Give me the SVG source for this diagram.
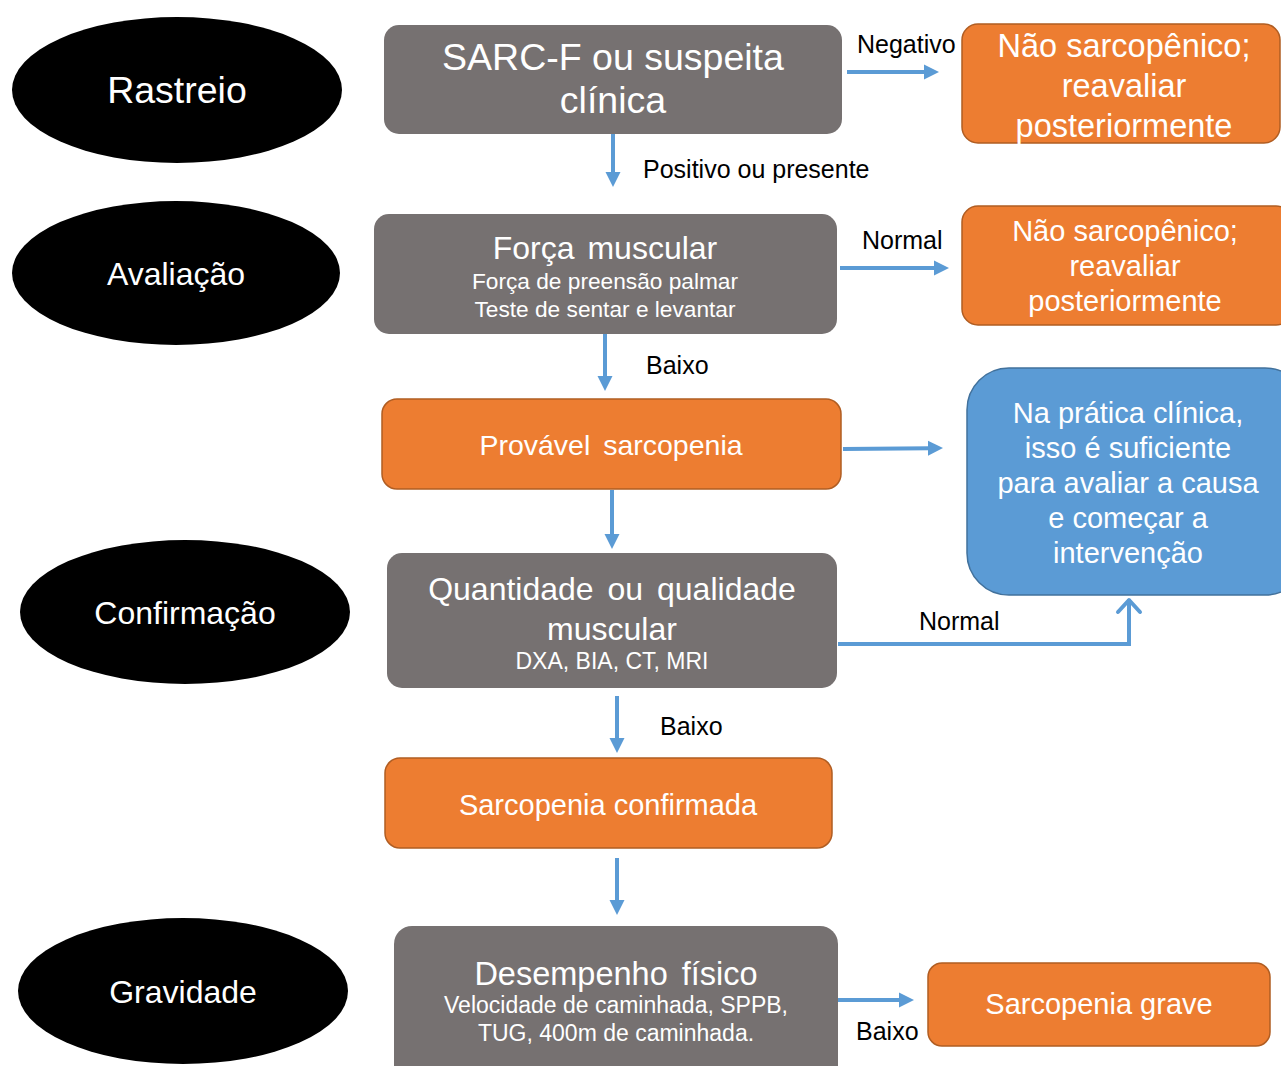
<svg xmlns="http://www.w3.org/2000/svg" width="1281" height="1066" viewBox="0 0 1281 1066">
  <defs>
    <style>
      text { font-family: "Liberation Sans", Arial, sans-serif; }
      .stage { fill: #000000; }
      .stage-t { fill: #ffffff; font-size: 32px; text-anchor: middle; }
      .gray { fill: #767171; }
      .orange { fill: #ED7D31; stroke: #B05D22; stroke-width: 1.5; }
      .blue { fill: #5B9BD5; stroke: #41719C; stroke-width: 1.5; }
      .w { fill: #ffffff; text-anchor: middle; }
      .lbl { fill: #000000; font-size: 25px; }
      .conn { fill: none; stroke: #5B9BD5; stroke-width: 4; }
      .tip { fill: #5B9BD5; }
    </style>
  </defs>

  <!-- Stage labels (left column) -->
  <g id="stage-rastreio">
    <ellipse class="stage" cx="177" cy="90" rx="165" ry="73"/>
    <text class="stage-t" x="177" y="103" style="font-size:37.5px">Rastreio</text>
  </g>
  <g id="stage-avaliacao">
    <ellipse class="stage" cx="176" cy="273" rx="164" ry="72"/>
    <text class="stage-t" x="176" y="285">Avaliação</text>
  </g>
  <g id="stage-confirmacao">
    <ellipse class="stage" cx="185" cy="612" rx="165" ry="72"/>
    <text class="stage-t" x="185" y="624">Confirmação</text>
  </g>
  <g id="stage-gravidade">
    <ellipse class="stage" cx="183" cy="991" rx="165" ry="73"/>
    <text class="stage-t" x="183" y="1003">Gravidade</text>
  </g>

  <!-- Connectors: shafts end at the base of their arrowheads -->
  <g id="connectors">
    <path class="conn" d="M847,72 H926"/>
    <path class="tip" d="M924,64.5 L939,72 L924,79.5 z"/>

    <path class="conn" d="M613,134 V174"/>
    <path class="tip" d="M605.5,172 L613,187 L620.5,172 z"/>

    <path class="conn" d="M840,268 H936"/>
    <path class="tip" d="M934,260.5 L949,268 L934,275.5 z"/>

    <path class="conn" d="M605,334 V378"/>
    <path class="tip" d="M597.5,376 L605,391 L612.5,376 z"/>

    <path class="conn" d="M843,449 L930,448.2"/>
    <path class="tip" d="M928,440.7 L943,448 L928,455.7 z"/>

    <path class="conn" d="M612,490 V536"/>
    <path class="tip" d="M604.5,534 L612,549 L619.5,534 z"/>

    <path class="conn" d="M838,644 H1129 V599"/>
    <path class="conn" d="M1118,612 L1129,600 L1140,612" stroke-linecap="round" stroke-linejoin="round"/>

    <path class="conn" d="M617,696 V740"/>
    <path class="tip" d="M609.5,738 L617,753 L624.5,738 z"/>

    <path class="conn" d="M617,858 V902"/>
    <path class="tip" d="M609.5,900 L617,915 L624.5,900 z"/>

    <path class="conn" d="M838,1000 H901"/>
    <path class="tip" d="M899,992.5 L914,1000 L899,1007.5 z"/>

    <text class="lbl" x="857" y="53">Negativo</text>
    <text class="lbl" x="643" y="178">Positivo ou presente</text>
    <text class="lbl" x="862" y="249">Normal</text>
    <text class="lbl" x="646" y="374">Baixo</text>
    <text class="lbl" x="919" y="630">Normal</text>
    <text class="lbl" x="660" y="735">Baixo</text>
    <text class="lbl" x="856" y="1040">Baixo</text>
  </g>

  <!-- Flow boxes -->
  <g id="sarc-f">
    <rect class="gray" x="384" y="25" width="458" height="109" rx="15"/>
    <text class="w" x="613" y="70" style="font-size:37.5px">SARC-F ou suspeita</text>
    <text class="w" x="613" y="113" style="font-size:37.5px">clínica</text>
  </g>

  <g id="nao-sarcopenico-1">
    <rect class="orange" x="962" y="24" width="318" height="119" rx="16"/>
    <text class="w" x="1124" y="57" style="font-size:32.5px">Não sarcopênico;</text>
    <text class="w" x="1124" y="97" style="font-size:32.5px">reavaliar</text>
    <text class="w" x="1124" y="137" style="font-size:32.5px">posteriormente</text>
  </g>

  <g id="forca-muscular">
    <rect class="gray" x="374" y="214" width="463" height="120" rx="15"/>
    <text class="w" x="605" y="259" style="font-size:32px;word-spacing:4px">Força muscular</text>
    <text class="w" x="605" y="289" style="font-size:22.7px">Força de preensão palmar</text>
    <text class="w" x="605" y="317" style="font-size:22.7px">Teste de sentar e levantar</text>
  </g>

  <g id="nao-sarcopenico-2">
    <rect class="orange" x="962" y="206" width="330" height="119" rx="16"/>
    <text class="w" x="1125" y="241" style="font-size:29px">Não sarcopênico;</text>
    <text class="w" x="1125" y="276" style="font-size:29px">reavaliar</text>
    <text class="w" x="1125" y="311" style="font-size:29px">posteriormente</text>
  </g>

  <g id="provavel-sarcopenia">
    <rect class="orange" x="382" y="399" width="459" height="90" rx="15"/>
    <text class="w" x="611" y="455" style="font-size:28.5px;word-spacing:5px">Provável sarcopenia</text>
  </g>

  <g id="pratica-clinica">
    <rect class="blue" x="967" y="368" width="340" height="227" rx="42"/>
    <text class="w" x="1128" y="423" style="font-size:29px">Na prática clínica,</text>
    <text class="w" x="1128" y="458" style="font-size:29px">isso é suficiente</text>
    <text class="w" x="1128" y="493" style="font-size:29px">para avaliar a causa</text>
    <text class="w" x="1128" y="528" style="font-size:29px">e começar a</text>
    <text class="w" x="1128" y="563" style="font-size:29px">intervenção</text>
  </g>

  <g id="quantidade-qualidade">
    <rect class="gray" x="387" y="553" width="450" height="135" rx="15"/>
    <text class="w" x="612" y="600" style="font-size:32px;word-spacing:5px">Quantidade ou qualidade</text>
    <text class="w" x="612" y="640" style="font-size:32px">muscular</text>
    <text class="w" x="612" y="669" style="font-size:23px">DXA, BIA, CT, MRI</text>
  </g>

  <g id="sarcopenia-confirmada">
    <rect class="orange" x="385" y="758" width="447" height="90" rx="15"/>
    <text class="w" x="608" y="815" style="font-size:29px">Sarcopenia confirmada</text>
  </g>

  <g id="desempenho-fisico">
    <rect class="gray" x="394" y="926" width="444" height="160" rx="18"/>
    <text class="w" x="616" y="985" style="font-size:32.5px;word-spacing:5px">Desempenho físico</text>
    <text class="w" x="616" y="1013" style="font-size:23px">Velocidade de caminhada, SPPB,</text>
    <text class="w" x="616" y="1041" style="font-size:23px">TUG, 400m de caminhada.</text>
  </g>

  <g id="sarcopenia-grave">
    <rect class="orange" x="928" y="963" width="342" height="83" rx="14"/>
    <text class="w" x="1099" y="1014" style="font-size:29px">Sarcopenia grave</text>
  </g>
</svg>
